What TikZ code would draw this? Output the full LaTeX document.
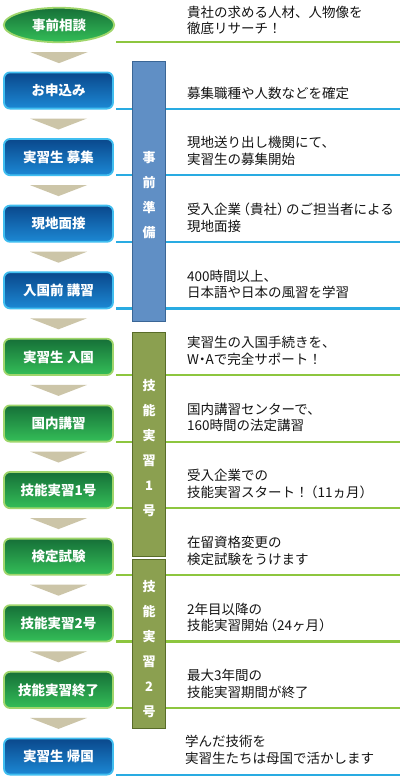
\documentclass[tikz,border=0pt]{standalone}
\usepackage{fontspec}
\setmainfont{Noto Sans CJK JP}
\usetikzlibrary{shapes.geometric,calc}
\definecolor{lineG}{RGB}{141,198,63}
\definecolor{lineB}{RGB}{41,171,226}
\definecolor{chevC}{RGB}{204,197,168}
\definecolor{bBorder}{RGB}{64,190,240}
\definecolor{bTop}{RGB}{10,72,140}
\definecolor{bBot}{RGB}{28,136,212}
\definecolor{gBorder}{RGB}{160,214,108}
\definecolor{gTop}{RGB}{22,112,56}
\definecolor{gBot}{RGB}{52,190,88}
\definecolor{barB}{RGB}{96,143,197}
\definecolor{barBd}{RGB}{58,102,150}
\definecolor{barG}{RGB}{139,160,80}
\definecolor{barGd}{RGB}{88,108,40}
\definecolor{txt}{RGB}{20,20,20}
\tikzset{
  basebox/.style={minimum width=109pt, minimum height=36.2pt, inner sep=0pt,
    rounded corners=6pt, line width=1.8pt, text=white,
    font=\fontsize{13.5}{16}\selectfont\bfseries},
  bluebox/.style={basebox, draw=bBorder, top color=bTop, bottom color=bBot},
  greenbox/.style={basebox, draw=gBorder, top color=gTop, bottom color=gBot},
  startell/.style={ellipse, minimum width=110.5pt, minimum height=34.5pt, inner sep=0pt,
    line width=1.8pt, draw=gBorder, top color=gTop, bottom color=gBot, text=white,
    font=\fontsize{13.5}{16}\selectfont\bfseries},
  gline/.style={draw=lineG, line width=2.2pt},
  bline/.style={draw=lineB, line width=2.2pt},
  chevfill/.style={fill=chevC},
  bluebar/.style={rectangle, draw=barBd, fill=barB, line width=1.4pt, minimum width=32.5pt, inner sep=0pt},
  greenbar/.style={rectangle, draw=barGd, fill=barG, line width=1.4pt, minimum width=32.5pt, inner sep=0pt},
  bartext/.style={align=center, inner sep=0pt, text=white, font=\fontsize{13}{25}\selectfont\bfseries},
  desc/.style={anchor=west, align=left, inner sep=0pt, text=txt, font=\fontsize{13.5}{16.5}\selectfont},
}
\newcommand\mychev[1]{\fill[chevfill] ($(#1.south)+(-28.5,9)$) -- ($(#1.south)+(28.5,9)$) -- ($(#1.south)+(0,20)$) -- cycle;}
\newcommand\lp{\kern-4.5pt（}
\newcommand\rp{）\kern-4.5pt}
\begin{document}
\begin{tikzpicture}[x=1pt,y=-1pt]
\fill[white] (0,0) rectangle (400,780);
\useasboundingbox (0,0) rectangle (400,780);
% separator lines
\draw[gline] (116,42) -- (400,42);
\draw[bline] (116,108.6) -- (400,108.6);
\draw[bline] (116,175.2) -- (400,175.2);
\draw[bline] (116,241.8) -- (400,241.8);
\draw[bline] (116,308.4) -- (400,308.4);
\draw[gline] (116,375) -- (400,375);
\draw[gline] (116,441.6) -- (400,441.6);
\draw[gline] (116,508.2) -- (400,508.2);
\draw[gline] (116,574.8) -- (400,574.8);
\draw[gline] (116,641.4) -- (400,641.4);
\draw[gline] (116,708) -- (400,708);
\draw[bline] (116,774.6) -- (400,774.6);
% phase bars
\node[bluebar, minimum height=259.5pt] (barA) at (149,191.5) {};
\node[greenbar, minimum height=223.5pt] (barB) at (149,444.5) {};
\node[greenbar, minimum height=168.5pt] (barC) at (149,644) {};
\node[bartext] (barAt) at (149,195.5) {事\\前\\準\\備};
\node[bartext] (barBt) at (149,448.5) {技\\能\\実\\習\\1\\号};
\node[bartext] (barCt) at (149,649.5) {技\\能\\実\\習\\2\\号};
% step boxes
\node[startell] (s0) at (59,25) {事前相談};
\node[bluebox] (s1) at (58.5,90.5) {お申込み};
\node[bluebox] (s2) at (58.5,157.1) {実習生 募集};
\node[bluebox] (s3) at (58.5,223.7) {現地面接};
\node[bluebox] (s4) at (58.5,290.3) {入国前 講習};
\node[greenbox] (s5) at (58.5,356.9) {実習生 入国};
\node[greenbox] (s6) at (58.5,423.5) {国内講習};
\node[greenbox] (s7) at (58.5,490.1) {技能実習1号};
\node[greenbox] (s8) at (58.5,556.7) {検定試験};
\node[greenbox] (s9) at (58.5,623.3) {技能実習2号};
\node[greenbox] (s10) at (58.5,689.9) {技能実習終了};
\node[bluebox] (s11) at (58.5,756.5) {実習生 帰国};
% chevrons
\mychev{s0}\mychev{s1}\mychev{s2}\mychev{s3}\mychev{s4}\mychev{s5}
\mychev{s6}\mychev{s7}\mychev{s8}\mychev{s9}\mychev{s10}
% descriptions
\node[desc] (d0) at (187,20.5) {貴社の求める人材、人物像を\\徹底リサーチ！};
\node[desc] (d1) at (187,93) {募集職種や人数などを確定};
\node[desc] (d2) at (187,151) {現地送り出し機関にて、\\実習生の募集開始};
\node[desc] (d3) at (187,217.6) {受入企業\lp 貴社\rp のご担当者による\\現地面接};
\node[desc] (d4) at (187,284.3) {400時間以上、\\日本語や日本の風習を学習};
\node[desc] (d5) at (187,350.9) {実習生の入国手続きを、\\W\kern-3.5pt・\kern-3.5pt Aで完全サポート！};
\node[desc] (d6) at (187,417.5) {国内講習センターで、\\160時間の法定講習};
\node[desc] (d7) at (187,484.1) {受入企業での\\技能実習スタート！\lp 11ヵ月\rp};
\node[desc] (d8) at (187,550.7) {在留資格変更の\\検定試験をうけます};
\node[desc] (d9) at (187,617.3) {2年目以降の\\技能実習開始\lp 24ヶ月\rp};
\node[desc] (d10) at (187,683.9) {最大3年間の\\技能実習期間が終了};
\node[desc] (d11) at (185,750) {学んだ技術を\\実習生たちは母国で活かします};
\end{tikzpicture}
\end{document}
